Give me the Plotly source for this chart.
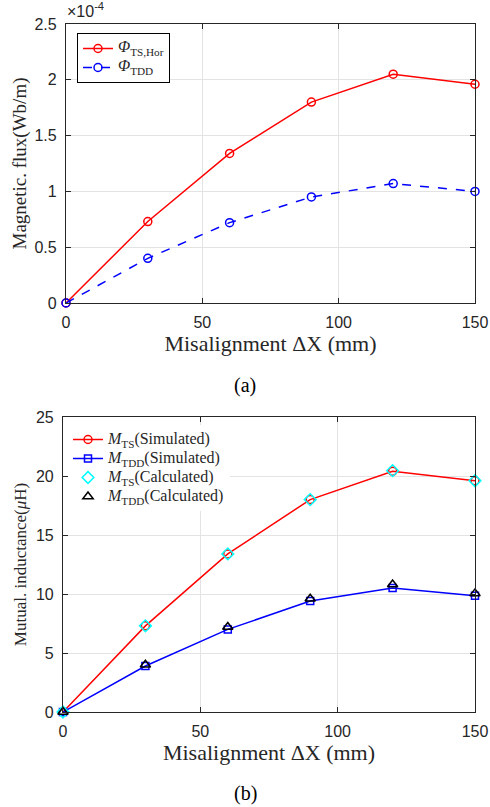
import plotly.graph_objects as go

# ---- data ----
x_mis = [0, 30, 60, 90, 120, 150]
# magnetic flux (x 1e-4 Wb/m)
phi_ts_hor = [0, 0.73, 1.34, 1.80, 2.05, 1.96]
phi_tdd = [0, 0.40, 0.72, 0.95, 1.07, 1.00]
# mutual inductance (uH)
m_ts_sim = [0, 7.3, 13.4, 18.0, 20.4, 19.6]
m_tdd_sim = [0, 3.9, 7.0, 9.4, 10.5, 9.85]
m_ts_calc = [0, 7.3, 13.4, 18.0, 20.45, 19.6]
m_tdd_calc = [0, 4.0, 7.2, 9.6, 10.8, 10.05]

x_ticks = [0, 50, 100, 150]
y1_ticks = [0, 0.5, 1, 1.5, 2, 2.5]
y1_ticklabels = ["0", "0.5", "1", "1.5", "2", "2.5"]
y2_ticks = [0, 5, 10, 15, 20, 25]

W, H = 490, 807
SERIF = "Liberation Serif"
SANS = "Liberation Sans"
TXT = "#262626"


def px(x):
    return x / W


def py(y):
    return 1 - y / H


def big(s, size=16):
    return '<span style="font-size:%dpx">%s</span>' % (size, s)


fig = go.Figure()

fig.add_trace(go.Scatter(x=x_mis, y=phi_ts_hor, mode="lines+markers",
                         name=big("<i>Φ</i><sub>TS,Hor</sub>", 16),
                         line=dict(color="red", width=1.5),
                         marker=dict(symbol="circle-open", size=8, color="red", line=dict(width=1.5)),
                         xaxis="x", yaxis="y", legend="legend", cliponaxis=False))
fig.add_trace(go.Scatter(x=x_mis, y=phi_tdd, mode="lines+markers",
                         name=big("<i>Φ</i><sub>TDD</sub>", 16),
                         line=dict(color="blue", width=1.5, dash="dash"),
                         marker=dict(symbol="circle-open", size=8, color="blue", line=dict(width=1.5)),
                         xaxis="x", yaxis="y", legend="legend", cliponaxis=False))

fig.add_trace(go.Scatter(x=x_mis, y=m_ts_sim, mode="lines+markers",
                         name=big("<i>M</i><sub>TS</sub>(Simulated)"),
                         line=dict(color="red", width=1.5),
                         marker=dict(symbol="circle-open", size=8, color="red", line=dict(width=1.5)),
                         xaxis="x2", yaxis="y2", legend="legend2", cliponaxis=False))
fig.add_trace(go.Scatter(x=x_mis, y=m_tdd_sim, mode="lines+markers",
                         name=big("<i>M</i><sub>TDD</sub>(Simulated)"),
                         line=dict(color="blue", width=1.5),
                         marker=dict(symbol="square-open", size=7, color="blue", line=dict(width=1.5)),
                         xaxis="x2", yaxis="y2", legend="legend2", cliponaxis=False))
fig.add_trace(go.Scatter(x=x_mis, y=m_ts_calc, mode="markers",
                         name=big("<i>M</i><sub>TS</sub>(Calculated)"),
                         marker=dict(symbol="diamond-open", size=9, color="cyan", line=dict(width=1.5)),
                         xaxis="x2", yaxis="y2", legend="legend2", cliponaxis=False))
fig.add_trace(go.Scatter(x=x_mis, y=m_tdd_calc, mode="markers",
                         name=big("<i>M</i><sub>TDD</sub>(Calculated)"),
                         marker=dict(symbol="triangle-up-open", size=9, color="black", line=dict(width=1.5)),
                         xaxis="x2", yaxis="y2", legend="legend2", cliponaxis=False))

axis_common = dict(showline=True, linecolor=TXT, linewidth=1.2, mirror="ticks",
                   ticks="inside", ticklen=5, tickcolor=TXT, tickwidth=1,
                   showgrid=True, gridcolor="#e3e3e3", gridwidth=1, zeroline=False,
                   automargin=False, ticklabelstandoff=5,
                   tickfont=dict(family=SANS, size=16, color=TXT))

fig.update_layout(
    width=W, height=H, margin=dict(l=0, r=0, t=0, b=0),
    paper_bgcolor="white", plot_bgcolor="white",
    xaxis=dict(domain=[px(66), px(475)], anchor="y", range=[0, 150], tickvals=x_ticks,
               title=dict(text="Misalignment ΔX (mm)",
                          font=dict(family=SERIF, size=22, color=TXT), standoff=1),
               **axis_common),
    yaxis=dict(domain=[py(303), py(24)], anchor="x", range=[0, 2.5],
               tickvals=y1_ticks, ticktext=y1_ticklabels,
               title=dict(text="Magnetic. flux(Wb/m)",
                          font=dict(family=SERIF, size=19, color=TXT), standoff=2),
               **axis_common),
    xaxis2=dict(domain=[px(63), px(475)], anchor="y2", range=[0, 150], tickvals=x_ticks,
                title=dict(text="Misalignment ΔX (mm)",
                           font=dict(family=SERIF, size=22, color=TXT), standoff=1),
                **axis_common),
    yaxis2=dict(domain=[py(712), py(417)], anchor="x2", range=[0, 25], tickvals=y2_ticks,
                title=dict(text="Mutual. inductance(<i>μ</i>H)",
                           font=dict(family=SERIF, size=17, color=TXT), standoff=4),
                **axis_common),
    legend=dict(x=px(77), y=py(33), xanchor="left", yanchor="top",
                bgcolor="white", bordercolor="black", borderwidth=1,
                font=dict(family=SERIF, size=10, color=TXT), tracegroupgap=0),
    legend2=dict(x=px(68), y=py(425), xanchor="left", yanchor="top",
                 bgcolor="white", borderwidth=0,
                 font=dict(family=SERIF, size=12, color=TXT), tracegroupgap=0),
    showlegend=True,
    annotations=[
        dict(text="×10<sup>-4</sup>", x=px(65), y=py(22), xref="paper", yref="paper",
             xanchor="left", yanchor="bottom", showarrow=False,
             font=dict(family=SANS, size=16, color=TXT)),
        dict(text="(a)", x=px(245), y=py(385), xref="paper", yref="paper",
             xanchor="center", yanchor="middle", showarrow=False,
             font=dict(family=SERIF, size=20, color="black")),
        dict(text="(b)", x=px(245), y=py(793), xref="paper", yref="paper",
             xanchor="center", yanchor="middle", showarrow=False,
             font=dict(family=SERIF, size=20, color="black")),
    ],
)

fig.write_html("out.html",
               config={"displayModeBar": False},
               post_script="document.body.style.margin='0';document.body.style.overflow='hidden';")
